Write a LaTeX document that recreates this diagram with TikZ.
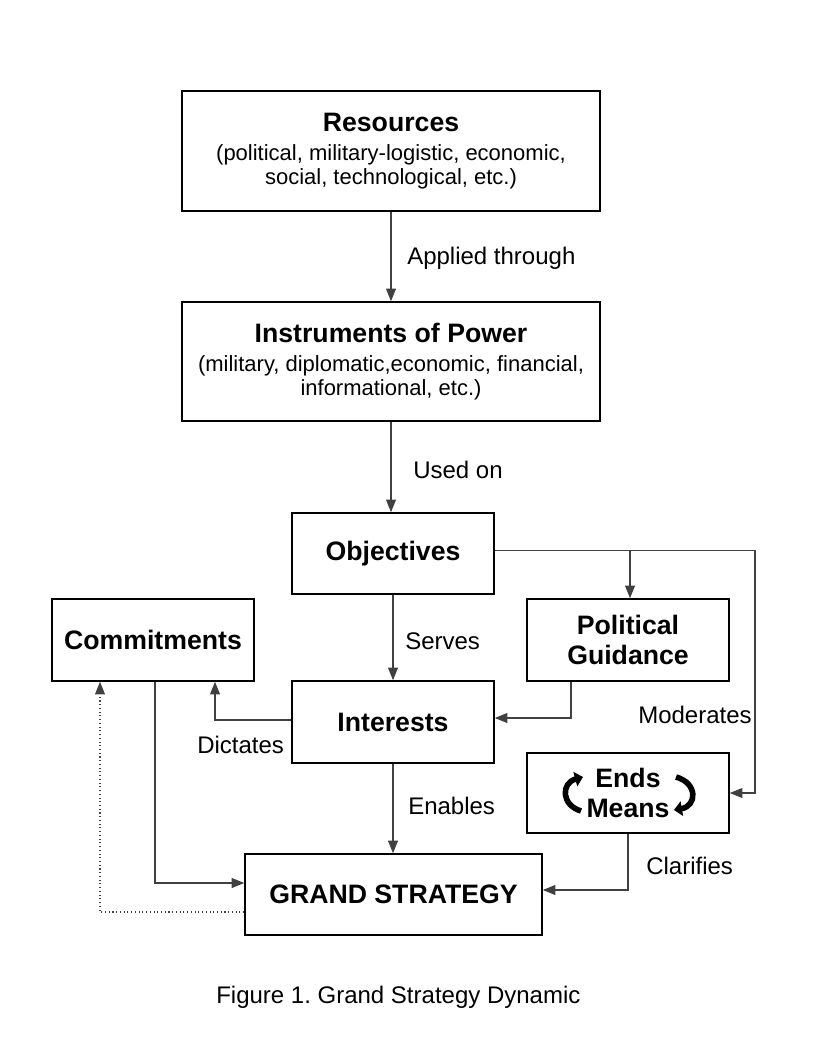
\documentclass[tikz,border=0pt]{standalone}
\usepackage{fontspec}
\setmainfont{Liberation Sans}
\usetikzlibrary{arrows.meta}
\frenchspacing
\begin{document}
\begin{tikzpicture}[x=0.75pt,y=-0.75pt,
  box/.style={draw=black,line width=1.2pt,align=center,inner sep=2pt},
  bigbox/.style={box,font=\fontsize{16.5}{18}\selectfont,minimum width=313.5pt},
  ttl/.style={font=\fontsize{20}{22}\selectfont\bfseries},
  conn/.style={draw=black!70,line width=0.8pt},
  arr/.style={conn,-{Triangle[length=9.5pt,width=7.5pt]},black!75},
  lbl/.style={anchor=west,inner sep=0pt,font=\fontsize{18}{21}\selectfont},
  swirl/.style={line width=4.2pt,-{Triangle[length=6pt,width=11pt]}}]
\useasboundingbox (0,0) rectangle (816,1056);

\node[bigbox,minimum height=90pt] (res) at (391,151)
  {{\fontsize{20}{24}\selectfont\bfseries Resources}\\[4pt]
   (political, military-logistic, economic,\\
   social, technological, etc.)};
\node[bigbox,minimum height=89.25pt] (ins) at (391,361.5)
  {{\fontsize{20}{24}\selectfont\bfseries Instruments of Power}\\[4pt]
   (military, diplomatic,economic, financial,\\
   informational, etc.)};
\node[box,ttl,minimum width=151.5pt,minimum height=60.75pt] (obj) at (393,553.5) {Objectives};
\node[box,ttl,minimum width=151.5pt,minimum height=61.5pt] (com) at (153,640) {Commitments};
\node[box,ttl,minimum width=151.5pt,minimum height=61.5pt] (pol) at (628,640) {Political\\Guidance};
\node[box,ttl,minimum width=151.5pt,minimum height=61.5pt] (int) at (393,722) {Interests};
\node[box,ttl,minimum width=151.5pt,minimum height=60pt] (ends) at (628,793) {Ends\\Means};
\node[box,ttl,minimum width=222.75pt,minimum height=60.75pt] (gs) at (393.5,894.5) {GRAND STRATEGY};

% swirl arrows inside Ends/Means
\draw[swirl] (581,811) .. controls (561,805) and (561,783) .. (583,777);
\draw[swirl] (676,777) .. controls (698,783) and (697,806) .. (674,810);

% vertical connectors
\draw[arr] (res.south) -- (ins.north);
\draw[arr] (ins.south) -- (ins.south |- obj.north);
\draw[arr] (obj.south) -- (int.north);
\draw[arr] (int.south) -- (int.south |- gs.north);

% Objectives -> Ends/Means and Political Guidance
\coordinate (mod) at (755,793);
\coordinate (br) at (630,550);
\draw[arr] ([yshift=2.6pt]obj.east) -| (mod) -- (ends.east);
\draw[arr] (br) -- (br |- pol.north);

% Political Guidance -> Interests
\coordinate (pg) at (571,718);
\draw[arr] (pol.south -| pg) -- (pg) -- (int.east |- pg);

% Interests -> Commitments
\coordinate (dc) at (215,720);
\draw[arr] (int.west |- dc) -- (dc) -- (dc |- com.south);

% Commitments -> Grand Strategy
\coordinate (cg) at (155,883);
\draw[arr] (com.south -| cg) -- (cg) -- (gs.west |- cg);

% Grand Strategy -> Commitments (dotted)
\coordinate (dt) at (100,912);
\draw[arr,dotted] (gs.west |- dt) -- (dt) -- (dt |- com.south);

% Ends/Means -> Grand Strategy
\coordinate (eg) at (628,890);
\draw[arr] (ends.south -| eg) -- (eg) -- (gs.east |- eg);

% labels
\node[lbl] (l1) at (407,258) {Applied through};
\node[lbl] (l2) at (413,470) {Used on};
\node[lbl] (l3) at (405,641) {Serves};
\node[lbl] (l4) at (408,806) {Enables};
\node[lbl] (l5) at (638,715) {Moderates};
\node[lbl] (l6) at (197,745) {Dictates};
\node[lbl] (l7) at (646,866) {Clarifies};
\node[lbl] (cap) at (216,997) {Figure 1. Grand Strategy Dynamic};
\end{tikzpicture}
\end{document}
